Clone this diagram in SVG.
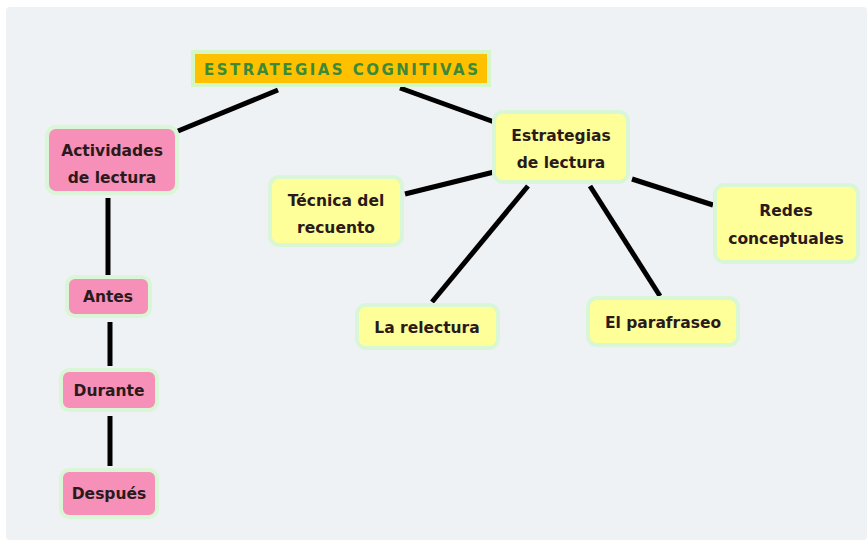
<svg xmlns="http://www.w3.org/2000/svg" width="867" height="540" viewBox="0 0 867 540">
<style>
.bg{fill:#eef2f5}
.pink{fill:#f690b8;stroke:#d9f7d6;stroke-width:4}
.yel{fill:#ffff99;stroke:#d9f7d6;stroke-width:4}
.title{fill:#ffc000;stroke:#d5f7c8;stroke-width:4}
text{font-family:"DejaVu Sans",sans-serif;font-weight:bold;font-size:15.5px;text-anchor:middle;fill:#2a1a1a}
.tt{fill:#3a8a3a;font-size:15px;font-weight:bold}
.c line{stroke:#000;stroke-width:5;stroke-linecap:butt}
</style>
<rect width="867" height="540" fill="#ffffff"/>
<rect class="bg" x="6" y="7" width="861" height="533" rx="4"/>
<g class="c" id="connectors">
<line x1="278" y1="90" x2="178" y2="131"/>
<line x1="400" y1="88" x2="497" y2="123"/>
<line x1="494" y1="172" x2="405" y2="194"/>
<line x1="528" y1="186" x2="432" y2="302"/>
<line x1="590" y1="186" x2="660" y2="296"/>
<line x1="632" y1="179" x2="713" y2="205"/>
<line x1="108" y1="198" x2="108" y2="275"/>
<line x1="110" y1="322" x2="110" y2="366"/>
<line x1="110" y1="416" x2="110" y2="466"/>
</g>
<g id="n-title"><rect class="title" x="193" y="52" width="296" height="33"/><text class="tt" x="341" y="75" textLength="274" lengthAdjust="spacing">ESTRATEGIAS COGNITIVAS</text></g>
<g id="n-actividades"><rect class="pink" x="47" y="127" width="130" height="66" rx="9"/><text x="112" y="156">Actividades</text><text x="112" y="183">de lectura</text></g>
<g id="n-estrategias"><rect class="yel" x="494" y="112" width="134" height="70" rx="9"/><text x="561" y="141">Estrategias</text><text x="561" y="168">de lectura</text></g>
<g id="n-tecnica"><rect class="yel" x="270" y="177" width="132" height="68" rx="9"/><text x="336" y="206">Técnica del</text><text x="336" y="233">recuento</text></g>
<g id="n-redes"><rect class="yel" x="715" y="185" width="143" height="77" rx="9"/><text x="786" y="216">Redes</text><text x="786" y="244">conceptuales</text></g>
<g id="n-relectura"><rect class="yel" x="357" y="305" width="141" height="43" rx="9"/><text x="427" y="333">La relectura</text></g>
<g id="n-parafraseo"><rect class="yel" x="588" y="298" width="150" height="47" rx="9"/><text x="663" y="328">El parafraseo</text></g>
<g id="n-antes"><rect class="pink" x="67" y="277" width="83" height="39" rx="8"/><text x="108" y="302">Antes</text></g>
<g id="n-durante"><rect class="pink" x="61" y="370" width="96" height="40" rx="8"/><text x="109" y="396">Durante</text></g>
<g id="n-despues"><rect class="pink" x="61" y="470" width="96" height="47" rx="8"/><text x="109" y="499">Después</text></g>
</svg>
